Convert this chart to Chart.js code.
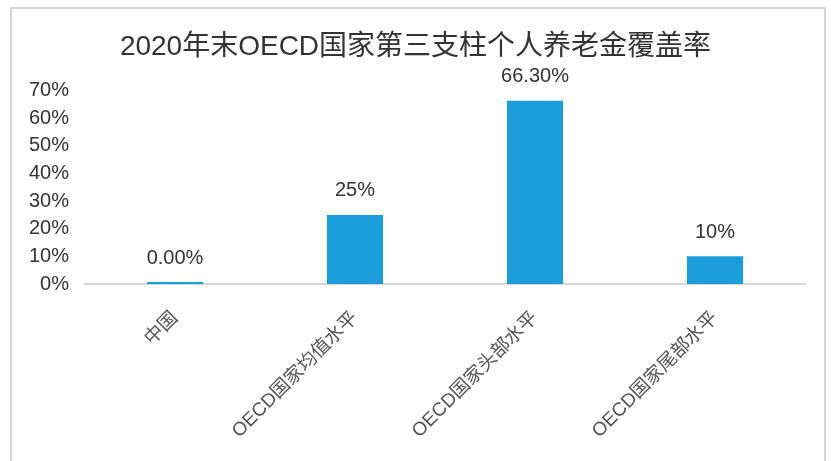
<!DOCTYPE html>
<html>
<head>
<meta charset="utf-8">
<script src="https://cdn.jsdelivr.net/npm/chart.js@4/dist/chart.umd.min.js"></script>
<style>
  html, body { margin: 0; padding: 0; background: #fff; }
  #wrap { position: relative; width: 831px; height: 461px; overflow: hidden; }
  #frame { position: absolute; left: 10px; top: 7px; width: 816px; height: 470px;
           border: 2px solid #d6d6d6; border-bottom: none; box-sizing: border-box; }
  #c { position: absolute; left: 0; top: 0; }
</style>
</head>
<body>
<div id="wrap">
  <div id="frame"></div>
  <canvas id="c" width="831" height="461"></canvas>
</div>
<script>
const title = "2020年末OECD国家第三支柱个人养老金覆盖率";
const categories = ["中国", "OECD国家均值水平", "OECD国家头部水平", "OECD国家尾部水平"];
const coverage = [0, 25, 66.3, 10];
const valueLabels = ["0.00%", "25%", "66.30%", "10%"];
const yTickLabels = ["0%", "10%", "20%", "30%", "40%", "50%", "60%", "70%"];

const FONT = '"Liberation Sans", "Noto Sans CJK SC", sans-serif';

const valueLabelPlugin = {
  id: 'valueLabels',
  afterDatasetsDraw(chart) {
    const ctx = chart.ctx;
    const meta = chart.getDatasetMeta(0);
    ctx.save();
    ctx.font = '20px ' + FONT;
    ctx.fillStyle = '#333333';
    ctx.textAlign = 'center';
    ctx.textBaseline = 'middle';
    meta.data.forEach((bar, i) => {
      ctx.fillText(valueLabels[i], bar.x, bar.y - 24);
    });
    ctx.restore();
  }
};

new Chart(document.getElementById('c'), {
  type: 'bar',
  data: {
    labels: categories,
    datasets: [{
      data: coverage,
      backgroundColor: '#1b9dd9',
      borderWidth: 0,
      minBarLength: 2,
      categoryPercentage: 0.8,
      barPercentage: 0.39
    }]
  },
  options: {
    responsive: false,
    animation: false,
    layout: { padding: { left: 26, right: 26, top: 0, bottom: 0 } },
    plugins: {
      legend: { display: false },
      tooltip: { enabled: false },
      title: {
        display: true,
        text: title,
        color: '#333333',
        font: { family: FONT, size: 28, weight: 'normal', lineHeight: 1.2 },
        padding: { top: 30, bottom: 27 }
      }
    },
    scales: {
      x: {
        grid: { display: false, drawTicks: false },
        border: { display: true, color: '#d6d6d6', width: 2 },
        ticks: {
          color: '#555555',
          font: { family: FONT, size: 19 },
          minRotation: 45,
          maxRotation: 45,
          padding: 23,
          autoSkip: false
        },
        afterFit(scale) { scale.height = 177; }
      },
      y: {
        min: 0,
        max: 70,
        grid: { display: false, drawTicks: false },
        border: { display: false },
        ticks: {
          stepSize: 10,
          autoSkip: false,
          color: '#333333',
          font: { family: FONT, size: 20 },
          padding: 16,
          callback: (v, i) => yTickLabels[i]
        },
        afterFit(scale) { scale.width = 59; }
      }
    }
  },
  plugins: [valueLabelPlugin]
});
</script>
</body>
</html>
